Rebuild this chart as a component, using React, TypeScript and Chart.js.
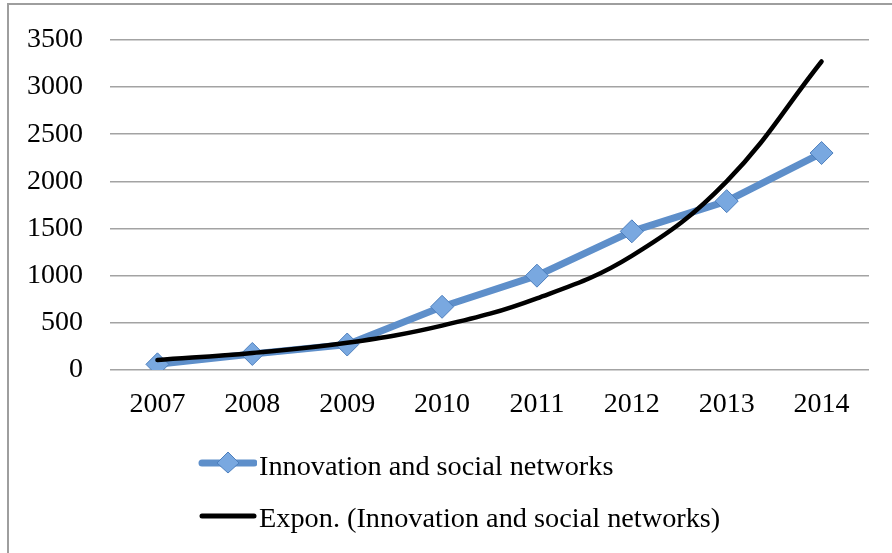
import React, { useEffect, useRef } from "react";
import { Chart, registerables } from "chart.js";

Chart.register(...registerables);

const years = ["2007", "2008", "2009", "2010", "2011", "2012", "2013", "2014"];
const networkValues = [60, 170, 270, 670, 1000, 1470, 1790, 2300];
const trendValues = [105, 181, 288, 470, 760, 1210, 2000, 3270];
const yTicks = [0, 500, 1000, 1500, 2000, 2500, 3000, 3500];
const seriesLabel = "Innovation and social networks";
const trendLabel = "Expon. (Innovation and social networks)";

const FONT = "'Liberation Serif', 'Times New Roman', serif";
const BLUE = "#5e8fca";
const MARKER_FILL = "#79a8e0";
const MARKER_BORDER = "#4d7fbd";
const GRID = "#a3a3a3";

export default function App() {
  const canvasRef = useRef<HTMLCanvasElement | null>(null);

  useEffect(() => {
    if (!canvasRef.current) return;
    const chart = new Chart(canvasRef.current, {
      type: "line",
      data: {
        labels: years,
        datasets: [
          {
            label: seriesLabel,
            data: networkValues,
            borderColor: BLUE,
            borderWidth: 7,
            pointStyle: "rectRot",
            pointRadius: 11.5,
            pointHoverRadius: 11.5,
            pointBackgroundColor: MARKER_FILL,
            pointBorderColor: MARKER_BORDER,
            pointBorderWidth: 1,
            tension: 0,
            fill: false,
            order: 1,
          },
          {
            label: trendLabel,
            data: trendValues,
            borderColor: "#000000",
            borderWidth: 4.5,
            pointRadius: 0,
            pointHoverRadius: 0,
            tension: 0.4,
            borderCapStyle: "round",
            fill: false,
            order: 0,
          },
        ],
      },
      options: {
        responsive: false,
        animation: false,
        layout: { padding: { left: 0, right: 23, top: 39, bottom: 0 } },
        plugins: {
          legend: { display: false },
          tooltip: { enabled: false },
          title: { display: false },
        },
        scales: {
          x: {
            offset: true,
            grid: { display: false, drawTicks: false },
            border: { display: false },
            ticks: {
              color: "#000",
              padding: 18,
              font: { family: FONT, size: 28 },
              maxRotation: 0,
            },
            afterFit: (scale: any) => {
              scale.height = 183;
            },
          },
          y: {
            min: 0,
            max: 3500,
            afterBuildTicks: (scale: any) => {
              scale.ticks = yTicks.map((v) => ({ value: v }));
            },
            grid: { color: GRID, lineWidth: 1.6, drawTicks: false },
            border: { display: false },
            ticks: {
              color: "#000",
              padding: 27,
              font: { family: FONT, size: 28 },
              callback: (value: any) => String(value),
            },
            afterFit: (scale: any) => {
              scale.width = 110;
            },
          },
        },
      },
    });
    return () => chart.destroy();
  }, []);

  const textStyle: React.CSSProperties = {
    position: "absolute",
    left: 259,
    fontFamily: FONT,
    fontSize: 28.3,
    lineHeight: "31px",
    color: "#000",
    whiteSpace: "nowrap",
  };

  return (
    <div
      style={{
        position: "absolute",
        left: 0,
        top: 0,
        width: 892,
        height: 553,
        overflow: "hidden",
        background: "#fff",
      }}
    >
      <div
        style={{
          position: "absolute",
          left: 7,
          top: 3,
          width: 900,
          height: 600,
          borderLeft: "2px solid #9e9e9e",
          borderTop: "2px solid #9e9e9e",
        }}
      />
      <canvas
        ref={canvasRef}
        width={892}
        height={557}
        style={{ position: "absolute", left: 0, top: -4, width: 892, height: 557 }}
      />
      <svg
        width={60}
        height={30}
        style={{ position: "absolute", left: 197, top: 448 }}
      >
        <line x1={5} y1={15} x2={57} y2={15} stroke={BLUE} strokeWidth={7} strokeLinecap="round" />
        <polygon
          points="31,4 42,15 31,25 20,15"
          fill={MARKER_FILL}
          stroke={MARKER_BORDER}
          strokeWidth={1}
        />
      </svg>
      <div style={{ ...textStyle, top: 450 }}>{seriesLabel}</div>
      <svg
        width={60}
        height={30}
        style={{ position: "absolute", left: 197, top: 501 }}
      >
        <line x1={5} y1={15} x2={57} y2={15} stroke="#000" strokeWidth={5} strokeLinecap="round" />
      </svg>
      <div style={{ ...textStyle, top: 502 }}>{trendLabel}</div>
    </div>
  );
}
